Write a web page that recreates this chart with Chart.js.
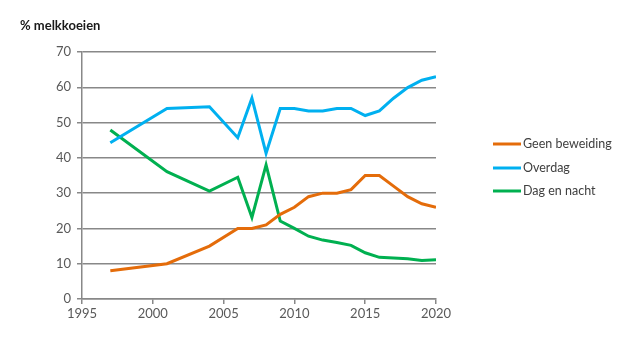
<!DOCTYPE html>
<html>
<head>
<meta charset="utf-8">
<script src="https://cdn.jsdelivr.net/npm/chart.js@4"></script>
<style>
  html, body { margin: 0; padding: 0; background: #fff; }
  #wrap { width: 622px; height: 337px; position: relative; }
</style>
</head>
<body>
<div id="wrap"><canvas id="myChart"></canvas></div>
<script>
let years = [1997, 2001, 2004, 2006, 2007, 2008, 2009, 2010, 2011, 2012, 2013, 2014, 2015, 2016, 2017, 2018, 2019, 2020];

let geenBeweiding = [8, 10, 15, 20, 20, 21, 24, 26, 29, 30, 30, 31, 35, 35, 32, 29, 27, 26];
let overdag = [44.3, 54, 54.5, 45.7, 56.9, 41.3, 54, 54, 53.3, 53.3, 54, 54, 52, 53.3, 56.9, 59.9, 62, 63];
let dagEnNacht = [47.9, 36.1, 30.6, 34.5, 23.1, 38, 22.1, 20, 17.8, 16.7, 16, 15.2, 13.1, 11.8, 11.6, 11.4, 10.9, 11.1];

let labels = ['Geen beweiding', 'Overdag', 'Dag en nacht'];
let colors = ['#e46c0a', '#00b0f0', '#00b050'];
let series = [geenBeweiding, overdag, dagEnNacht];

let yTicks = [0, 10, 20, 30, 40, 50, 60, 70];
let xTicks = [1995, 2000, 2005, 2010, 2015, 2020];

let axisGrey = '#888888';
let textGrey = '#595959';

// title in the top left and a line legend to the right of the plot
let extras = {
    id: 'extras',
    afterDraw(chart) {
        let ctx = chart.ctx;
        ctx.save();
        ctx.fillStyle = '#1a1a1a';
        ctx.font = 'bold 13px Lato';
        ctx.textBaseline = 'middle';
        ctx.textAlign = 'left';
        ctx.fillText('% melkkoeien', 20, 26);

        let rows = [144, 168, 191];
        chart.data.datasets.forEach((ds, i) => {
            let y = rows[i];
            ctx.strokeStyle = ds.borderColor;
            ctx.lineWidth = 3;
            ctx.beginPath();
            ctx.moveTo(493, y);
            ctx.lineTo(521, y);
            ctx.stroke();
            ctx.fillStyle = '#404040';
            ctx.font = '12.5px Lato';
            ctx.fillText(ds.label, 523, y);
        });
        ctx.restore();
    }
};

let myChart = document.getElementById('myChart').getContext('2d');

let chart = new Chart(myChart, {
    type: 'line',
    data: {
        datasets: series.map((s, i) => ({
            label: labels[i],
            data: years.map((yr, j) => ({ x: yr, y: s[j] })),
            borderColor: colors[i],
            backgroundColor: colors[i],
            borderWidth: 3,
            pointRadius: 0,
            tension: 0,
            fill: false
        }))
    },
    options: {
        responsive: true,
        maintainAspectRatio: false,
        animation: false,
        layout: { padding: { top: 52, right: 186, bottom: 0, left: 0 } },
        plugins: {
            legend: { display: false },
            title: { display: false },
            tooltip: { enabled: false }
        },
        scales: {
            x: {
                type: 'linear',
                min: 1995,
                max: 2020,
                afterBuildTicks: scale => { scale.ticks = xTicks.map(v => ({ value: v })); },
                afterFit: scale => { scale.height = 38; },
                border: { color: axisGrey, width: 1.5 },
                grid: { drawOnChartArea: false, drawTicks: true, tickLength: 5, color: axisGrey, lineWidth: 1.5 },
                ticks: {
                    color: textGrey,
                    font: { family: 'Lato', size: 13 },
                    padding: 2,
                    maxRotation: 0,
                    callback: v => String(v)
                }
            },
            y: {
                min: 0,
                max: 70,
                afterBuildTicks: scale => { scale.ticks = yTicks.map(v => ({ value: v })); },
                afterFit: scale => { scale.width = 82; },
                border: { color: axisGrey, width: 1.5 },
                grid: { color: axisGrey, lineWidth: 1.5, tickLength: 5 },
                ticks: {
                    color: textGrey,
                    font: { family: 'Lato', size: 13 },
                    padding: 6
                }
            }
        }
    },
    plugins: [extras]
});
</script>
</body>
</html>
